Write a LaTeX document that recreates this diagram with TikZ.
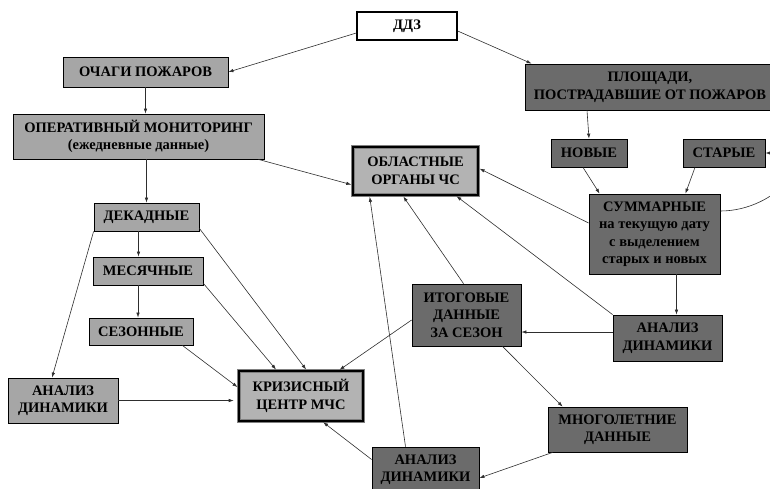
\documentclass[tikz,border=0pt]{standalone}
\usepackage{fontspec}
\setmainfont{Liberation Serif}
\usetikzlibrary{arrows.meta}
\definecolor{boxlight}{HTML}{A6A6A6}
\definecolor{boxdark}{HTML}{6B6B6B}
\definecolor{boxkey}{HTML}{B3B3B3}
\definecolor{linkgray}{HTML}{2E2E2E}
\begin{document}
\begin{tikzpicture}[x=1pt,y=-1pt,
		box/.style={draw=black, line width=0.8pt, inner sep=2pt, align=center,
			font=\bfseries\fontsize{14.5}{17.5}\selectfont},
		lightbox/.style={box, fill=boxlight},
		darkbox/.style={box, fill=boxdark},
		keybox/.style={box, fill=boxkey, draw=gray, double=black, double distance=2.4pt, line width=0.6pt},
		link/.style={draw=linkgray, line width=0.6pt, -{Latex[length=5pt,width=3.5pt]}},
		tokey/.style={link, shorten >=1.5pt}]
		\useasboundingbox (0,0) rectangle (770,488);
		% sources
		\node[box, fill=white, line width=1.4pt, minimum width=100pt, minimum height=28pt] (ddz) at (407,26) {ДДЗ};
		\node[lightbox, minimum width=165pt, minimum height=30pt] (ochagi) at (145.5,72) {ОЧАГИ ПОЖАРОВ};
		\node[lightbox, minimum width=251pt, minimum height=45pt] (oper) at (138.5,136.5) {ОПЕРАТИВНЫЙ МОНИТОРИНГ\\(ежедневные данные)};
		\node[darkbox, minimum width=250pt, minimum height=46pt] (plosh) at (650,87) {ПЛОЩАДИ,\\ПОСТРАДАВШИЕ ОТ ПОЖАРОВ};
		\node[darkbox, minimum width=76pt, minimum height=28pt] (novye) at (589,153) {НОВЫЕ};
		\node[darkbox, minimum width=82pt, minimum height=28pt] (starye) at (724,153) {СТАРЫЕ};
		\node[darkbox, minimum width=131pt, minimum height=80pt] (summ) at (654.5,234) {СУММАРНЫЕ\\на текущую дату\\с выделением\\старых и новых};
		% left branch
		\node[lightbox, minimum width=105pt, minimum height=28pt] (dekad) at (146.5,217) {ДЕКАДНЫЕ};
		\node[lightbox, minimum width=110pt, minimum height=28pt] (mesyach) at (148,271) {МЕСЯЧНЫЕ};
		\node[lightbox, minimum width=104pt, minimum height=27pt] (sezon) at (141,331.5) {СЕЗОННЫЕ};
		\node[lightbox, minimum width=110pt, minimum height=45pt] (analizA) at (63,400.5) {АНАЛИЗ\\ДИНАМИКИ};
		% receivers
		\node[keybox, minimum width=125pt, minimum height=48pt] (oblast) at (415.5,171) {ОБЛАСТНЫЕ\\ОРГАНЫ ЧС};
		\node[keybox, minimum width=124pt, minimum height=50pt] (krizis) at (301,396) {КРИЗИСНЫЙ\\ЦЕНТР МЧС};
		% right branch
		\node[darkbox, minimum width=109pt, minimum height=62pt] (itog) at (466.5,315) {ИТОГОВЫЕ\\ДАННЫЕ\\ЗА СЕЗОН};
		\node[darkbox, minimum width=109pt, minimum height=46pt] (analizB) at (667.5,338) {АНАЛИЗ\\ДИНАМИКИ};
		\node[darkbox, minimum width=139pt, minimum height=45pt] (mnogo) at (617.5,429.5) {МНОГОЛЕТНИЕ\\ДАННЫЕ};
		\node[darkbox, minimum width=107pt, minimum height=45pt] (analizC) at (425.5,469.5) {АНАЛИЗ\\ДИНАМИКИ};
		% links
		\draw[link] ([yshift=-7pt]ddz.west) -- (ochagi.east);
		\draw[link] ([yshift=-5pt]ddz.east) -- ([xshift=7pt]plosh.north west);
		\draw[link] (ochagi) -- (ochagi |- oper.north);
		\draw[tokey] ([xshift=-6pt]oper.south east) -- ([yshift=-14pt]oblast.west);
		\draw[link] (dekad |- oper.south) -- (dekad);
		\draw[link] ([xshift=-8pt]dekad.south) -- ([xshift=-8pt]dekad.south |- mesyach.north);
		\draw[link] ([xshift=-10pt]mesyach.south) -- ([xshift=-10pt]mesyach.south |- sezon.north);
		\draw[link] (dekad.south west) -- ([xshift=-11pt]analizA.north);
		\draw[tokey] ([yshift=3pt]dekad.south east) -- ([xshift=6pt]krizis.north);
		\draw[tokey] ([yshift=2pt]mesyach.south east) -- ([xshift=-24pt]krizis.north);
		\draw[tokey] ([xshift=-11pt]sezon.south east) -- ([yshift=8pt]krizis.west);
		\draw[tokey, shorten >=5pt] (analizA) -- (analizA -| krizis.west);
		\draw[tokey] ([yshift=-5pt]itog.west) -- ([xshift=-25pt]krizis.north east);
		\draw[tokey] ([yshift=10pt]analizC.west) -- ([xshift=21pt]krizis.south);
		\draw[tokey] ([xshift=-20pt]analizC.north) -- ([xshift=-46pt]oblast.south);
		\draw[tokey] ([xshift=-3pt]itog.north) -- ([xshift=-13pt]oblast.south);
		\draw[tokey] (analizB.north west) -- ([xshift=-23pt]oblast.south east);
		\draw[tokey] ([yshift=11pt]summ.west) -- ([yshift=3pt]oblast.east);
		\draw[link] ([yshift=6pt]analizB.west) -- ([yshift=6pt]analizB.west -| itog.east);
		\draw[link] ([xshift=22pt]summ.south) -- ([xshift=22pt]summ.south |- analizB.north);
		\draw[link] ([xshift=-63pt]plosh.south) -- (novye.north);
		\draw[link] ([xshift=-6pt]novye.south) -- ([xshift=11pt]summ.north west);
		\draw[link] ([xshift=-29pt]starye.south) -- ([xshift=-35pt]summ.north east);
		\draw[link] ([yshift=23pt]summ.east) to[out=0, in=0, looseness=2] (starye.east);
		\draw[link] ([xshift=36pt]itog.south) -- ([xshift=15pt]mnogo.north west);
		\draw[link] ([xshift=5pt]mnogo.south west) -- ([yshift=-8.5pt]analizC.east);
	\end{tikzpicture}
\end{document}
